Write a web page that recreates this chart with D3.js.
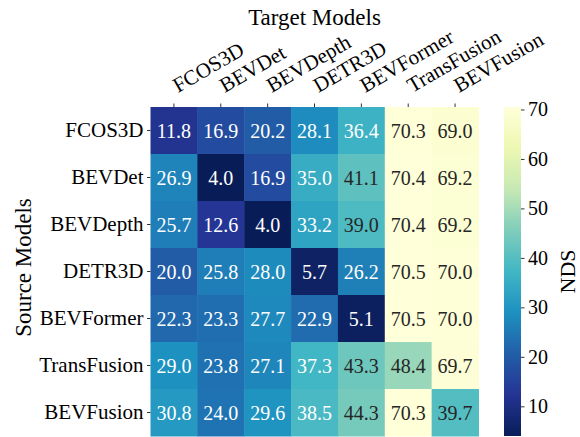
<!DOCTYPE html>
<html>
<head>
<meta charset="utf-8">
<script src="https://cdn.jsdelivr.net/npm/d3@7"></script>
<style>
  html, body { margin: 0; padding: 0; background: #fff; }
  svg text { font-family: "Liberation Serif", "DejaVu Serif", serif; fill: #000; }
</style>
</head>
<body>
<svg id="chart" width="580" height="437"></svg>
<script>
// Transfer-attack NDS: rows are source models, columns are target models
const targetModels = ["FCOS3D", "BEVDet", "BEVDepth", "DETR3D", "BEVFormer", "TransFusion", "BEVFusion"];
const sourceModels = ["FCOS3D", "BEVDet", "BEVDepth", "DETR3D", "BEVFormer", "TransFusion", "BEVFusion"];

const rowFCOS3D      = [11.8, 16.9, 20.2, 28.1, 36.4, 70.3, 69.0];
const rowBEVDet      = [26.9, 4.0, 16.9, 35.0, 41.1, 70.4, 69.2];
const rowBEVDepth    = [25.7, 12.6, 4.0, 33.2, 39.0, 70.4, 69.2];
const rowDETR3D      = [20.0, 25.8, 28.0, 5.7, 26.2, 70.5, 70.0];
const rowBEVFormer   = [22.3, 23.3, 27.7, 22.9, 5.1, 70.5, 70.0];
const rowTransFusion = [29.0, 23.8, 27.1, 37.3, 43.3, 48.4, 69.7];
const rowBEVFusion   = [30.8, 24.0, 29.6, 38.5, 44.3, 70.3, 39.7];

const colorbarTicks = [10, 20, 30, 40, 50, 60, 70];

const rows = [rowFCOS3D, rowBEVDet, rowBEVDepth, rowDETR3D, rowBEVFormer, rowTransFusion, rowBEVFusion];
const cells = [];
rows.forEach((r, i) => r.forEach((v, j) => cells.push({ src: sourceModels[i], tgt: targetModels[j], v })));

const allVals = cells.map(c => c.v);
const vmin = d3.min(allVals), vmax = d3.max(allVals);

// YlGnBu, piecewise linear through the nine ColorBrewer stops
const ylgnbu = ["#ffffd9", "#edf8b1", "#c7e9b4", "#7fcdbb", "#41b6c4", "#1d91c0", "#225ea8", "#253494", "#081d58"];
const color = d3.scaleLinear()
  .domain(d3.range(ylgnbu.length).map(i => vmin + (vmax - vmin) * i / (ylgnbu.length - 1)))
  .range(ylgnbu.slice().reverse())
  .interpolate(d3.interpolateRgb);

// relative luminance decides dark or light annotation text
function luminance(c) {
  const rgb = d3.rgb(c);
  const lin = x => { x /= 255; return x <= 0.03928 ? x / 12.92 : Math.pow((x + 0.055) / 1.055, 2.4); };
  return 0.2126 * lin(rgb.r) + 0.7152 * lin(rgb.g) + 0.0722 * lin(rgb.b);
}

const svg = d3.select("#chart");
const plot = { left: 150.5, right: 478.5, top: 107, bottom: 436 };
const cbar = { left: 504, right: 521 };

const x = d3.scaleBand().domain(targetModels).range([plot.left, plot.right]);
const y = d3.scaleBand().domain(sourceModels).range([plot.top, plot.bottom]);

// heatmap cells
svg.append("g").selectAll("rect").data(cells).join("rect")
  .attr("x", d => x(d.tgt))
  .attr("y", d => y(d.src))
  .attr("width", x.bandwidth() + 0.5)
  .attr("height", y.bandwidth() + 0.5)
  .attr("fill", d => color(d.v));

// annotations
svg.append("g").selectAll("text").data(cells).join("text")
  .attr("x", d => x(d.tgt) + x.bandwidth() / 2)
  .attr("y", d => y(d.src) + y.bandwidth() / 2)
  .attr("text-anchor", "middle")
  .attr("dy", "0.35em")
  .style("font-size", "20px")
  .style("fill", d => luminance(color(d.v)) > 0.408 ? "#262626" : "#ffffff")
  .text(d => d.v.toFixed(1));

// top axis (target models)
const xAxis = svg.append("g")
  .attr("transform", `translate(0,${plot.top})`)
  .call(d3.axisTop(x).tickSize(3.5).tickPadding(3.5));
xAxis.select(".domain").remove();
xAxis.selectAll(".tick line").attr("stroke", "#000").attr("stroke-width", 0.8);
xAxis.selectAll(".tick text")
  .style("font-size", "21px")
  .attr("text-anchor", "start")
  .attr("x", 0).attr("y", 0).attr("dy", null)
  .attr("transform", "translate(4,-14) rotate(-30)");

// left axis (source models)
const yAxis = svg.append("g")
  .attr("transform", `translate(${plot.left},0)`)
  .call(d3.axisLeft(y).tickSize(3.5).tickPadding(3.5));
yAxis.select(".domain").remove();
yAxis.selectAll(".tick line").attr("stroke", "#000").attr("stroke-width", 0.8);
yAxis.selectAll(".tick text").style("font-size", "21px");

// axis titles
svg.append("text")
  .attr("x", (plot.left + plot.right) / 2).attr("y", 25)
  .attr("text-anchor", "middle")
  .style("font-size", "23px")
  .text("Target Models");

svg.append("text")
  .attr("transform", `translate(31,${(plot.top + plot.bottom) / 2 - 4}) rotate(-90)`)
  .attr("text-anchor", "middle")
  .style("font-size", "23px")
  .text("Source Models");

// colorbar
const cScale = d3.scaleLinear().domain([vmin, vmax]).range([plot.bottom, plot.top]);
const defs = svg.append("defs");
const grad = defs.append("linearGradient")
  .attr("id", "cbar-grad")
  .attr("x1", 0).attr("y1", 1).attr("x2", 0).attr("y2", 0);
d3.range(0, 1.0001, 0.02).forEach(t => {
  grad.append("stop")
    .attr("offset", t)
    .attr("stop-color", color(vmin + t * (vmax - vmin)));
});
svg.append("rect")
  .attr("x", cbar.left).attr("y", plot.top)
  .attr("width", cbar.right - cbar.left)
  .attr("height", plot.bottom - plot.top)
  .attr("fill", "url(#cbar-grad)");

const cAxis = svg.append("g")
  .attr("transform", `translate(${cbar.right},0)`)
  .call(d3.axisRight(cScale).tickValues(colorbarTicks).tickSize(3.5).tickPadding(3.5));
cAxis.select(".domain").remove();
cAxis.selectAll(".tick line").attr("stroke", "#000").attr("stroke-width", 0.8);
cAxis.selectAll(".tick text").style("font-size", "20px");

svg.append("text")
  .attr("transform", `translate(575,${(plot.top + plot.bottom) / 2}) rotate(-90)`)
  .attr("text-anchor", "middle")
  .style("font-size", "22px")
  .text("NDS");
</script>
</body>
</html>
